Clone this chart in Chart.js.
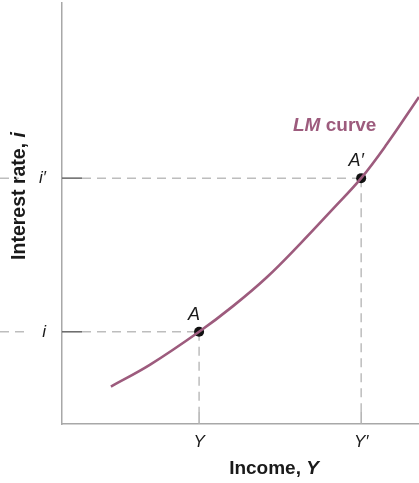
<!DOCTYPE html>
<html><head><meta charset="utf-8">
<script src="https://cdn.jsdelivr.net/npm/chart.js@4"></script>
<style>html,body{margin:0;padding:0;background:#fff}#wrap{width:419px;height:483px}</style>
</head><body><div id="wrap"><canvas id="c" width="419" height="483"></canvas></div>
<script>
// Data (x: income, y: interest rate; axis domain 0..100)
const curveX = [13.7, 24.7, 38.4, 47.9, 57.3, 66.7, 75.9, 83.8, 91.0, 100];
const curveY = [8.9, 14.1, 21.9, 28.0, 34.8, 42.8, 51.1, 58.4, 66.5, 77.7];
const pointNames = ['A', 'A\u2032'];
const pointX = [38.4, 83.8];
const pointY = [21.9, 58.4];
const xTickLabels = ['Y', 'Y\u2032'];
const yTickLabels = ['i', 'i\u2032'];
const curveName = ['LM', ' curve'];
const xTitle = ['Income, ', 'Y'];
const yTitle = ['Interest rate, ', 'i'];

const FONT = '"Liberation Sans", Arial, sans-serif';
const CURVE_COLOR = '#9d5b7d';

const overlay = {
  id: 'overlay',
  beforeDatasetsDraw(chart) {
    const {ctx, scales: {x, y}, chartArea: ca} = chart;
    ctx.save();
    ctx.lineWidth = 1.5;
    for (let k = 0; k < pointX.length; k++) {
      const px = x.getPixelForValue(pointX[k]);
      const py = y.getPixelForValue(pointY[k]);
      ctx.strokeStyle = '#bdbdbd';
      ctx.setLineDash([9, 6]);
      ctx.beginPath(); ctx.moveTo(0, py); ctx.lineTo(k === 0 ? 27 : 19, py); ctx.stroke();
      ctx.beginPath(); ctx.moveTo(ca.left + 20, py); ctx.lineTo(px, py); ctx.stroke();
      ctx.beginPath(); ctx.moveTo(px, py); ctx.lineTo(px, ca.bottom - 12); ctx.stroke();
      ctx.setLineDash([]);
      ctx.strokeStyle = '#b0b0b0';
      ctx.beginPath(); ctx.moveTo(px, ca.bottom - 12); ctx.lineTo(px, ca.bottom); ctx.stroke();
      ctx.strokeStyle = '#666';
      ctx.beginPath(); ctx.moveTo(ca.left, py); ctx.lineTo(ca.left + 20, py); ctx.stroke();
    }
    ctx.restore();
  },
  afterDatasetsDraw(chart) {
    const {ctx} = chart;
    ctx.save();
    ctx.fillStyle = '#1a1a1a';
    ctx.textAlign = 'center';
    ctx.textBaseline = 'middle';
    ctx.font = 'italic 18px ' + FONT;
    const meta = chart.getDatasetMeta(1);
    meta.data.forEach((el, k) => {
      ctx.fillText(pointNames[k], el.x - 5, el.y - 17);
    });
    ctx.fillStyle = CURVE_COLOR;
    ctx.textAlign = 'left';
    ctx.font = 'italic bold 19px ' + FONT;
    let lx = 293, ly = 126;
    ctx.fillText(curveName[0], lx, ly);
    lx += ctx.measureText(curveName[0]).width;
    ctx.font = 'bold 19px ' + FONT;
    ctx.fillText(curveName[1], lx, ly);
    ctx.fillStyle = '#1a1a1a';
    ctx.font = 'bold 19px ' + FONT;
    const w1 = ctx.measureText(xTitle[0]).width;
    ctx.font = 'italic bold 19px ' + FONT;
    const w2 = ctx.measureText(xTitle[1]).width;
    let tx = 274 - (w1 + w2) / 2, ty = 469;
    ctx.font = 'bold 19px ' + FONT;
    ctx.fillText(xTitle[0], tx, ty);
    ctx.font = 'italic bold 19px ' + FONT;
    ctx.fillText(xTitle[1], tx + w1, ty);
    ctx.translate(20, 196);
    ctx.rotate(-Math.PI / 2);
    ctx.font = 'bold 19.5px ' + FONT;
    const v1 = ctx.measureText(yTitle[0]).width;
    ctx.font = 'italic bold 19.5px ' + FONT;
    const v2 = ctx.measureText(yTitle[1]).width;
    let sx = -(v1 + v2) / 2;
    ctx.font = 'bold 19.5px ' + FONT;
    ctx.fillText(yTitle[0], sx, 0);
    ctx.font = 'italic bold 19.5px ' + FONT;
    ctx.fillText(yTitle[1], sx + v1, 0);
    ctx.restore();
  }
};

function zeroPad(s) { s.paddingTop = 0; s.paddingBottom = 0; s.paddingLeft = 0; s.paddingRight = 0; }

new Chart(document.getElementById('c'), {
  type: 'scatter',
  data: {
    datasets: [
      {
        data: curveX.map((v, i) => ({x: v, y: curveY[i]})),
        showLine: true,
        borderColor: CURVE_COLOR,
        borderWidth: 2.6,
        pointRadius: 0,
        tension: 0.4,
        fill: false
      },
      {
        data: pointX.map((v, i) => ({x: v, y: pointY[i]})),
        showLine: false,
        pointRadius: 5,
        pointBackgroundColor: '#111',
        pointBorderColor: '#111',
        pointBorderWidth: 0
      }
    ]
  },
  options: {
    responsive: false,
    animation: false,
    devicePixelRatio: 1,
    layout: {autoPadding: false, padding: {top: 3, right: 0, left: 0, bottom: 0}},
    plugins: {legend: {display: false}, tooltip: {enabled: false}},
    scales: {
      x: {
        type: 'linear', min: 0, max: 100,
        grid: {display: false, drawTicks: false},
        border: {display: true, color: '#a8a8a8', width: 1.5},
        afterBuildTicks: s => { s.ticks = pointX.map(v => ({value: v})); },
        afterFit: s => { s.height = 59; zeroPad(s); },
        ticks: {
          callback: (v, i) => xTickLabels[i],
          font: {family: FONT, size: 17, style: 'italic'},
          color: '#1a1a1a', padding: 8, maxRotation: 0, autoSkip: false
        }
      },
      y: {
        type: 'linear', min: 0, max: 100,
        grid: {display: false, drawTicks: false},
        border: {display: true, color: '#a8a8a8', width: 1.5},
        afterBuildTicks: s => { s.ticks = pointY.map(v => ({value: v})); },
        afterFit: s => { s.width = 62; zeroPad(s); },
        ticks: {
          callback: (v, i) => yTickLabels[i],
          font: {family: FONT, size: 17, style: 'italic'},
          color: '#1a1a1a', padding: 16, autoSkip: false
        }
      }
    }
  },
  plugins: [overlay]
});
</script></body></html>
